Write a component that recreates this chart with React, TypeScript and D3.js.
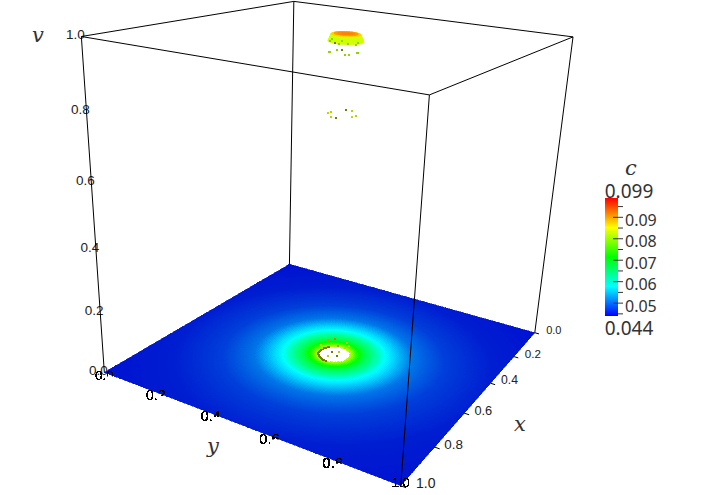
import { useMemo } from 'react';
import * as d3 from 'd3';

// Screen positions of the eight box corners: the projection is fitted to them.
const cornerCube = [[0, 0, 0], [1, 0, 0], [1, 1, 0], [0, 1, 0], [0, 0, 1], [1, 0, 1], [1, 1, 1], [0, 1, 1]];
const cornerScreen = [[290, 267], [104, 370], [400, 488], [535, 330], [293, 0], [82, 37], [430, 95], [573, 38]];

const axisTicks = [0, 0.2, 0.4, 0.6, 0.8, 1];

// c against distance from the disc centre on the floor
const profileR = [0.052, 0.06, 0.07, 0.095, 0.13, 0.165, 0.25, 0.35, 0.5, 0.75];
const profileC = [0.081, 0.078, 0.074, 0.068, 0.063, 0.0575, 0.051, 0.048, 0.046, 0.045];
const discX = 0.515;
const discY = 0.512;
const discR = 0.05;

// dome on top, c and v against radius
const domeR = [0, 0.012, 0.024, 0.034, 0.042, 0.05];
const domeV = [1.012, 1.012, 1.012, 1.012, 1.01, 0.99];
const domeC = [0.092, 0.092, 0.091, 0.09, 0.085, 0.08];

// loose points
const floorX = [0.537, 0.524, 0.514, 0.494, 0.491, 0.509, 0.497, 0.528, 0.535];
const floorY = [0.476, 0.498, 0.514, 0.547, 0.553, 0.523, 0.542, 0.49, 0.479];
const floorV = [0.033, 0.051, 0.054, 0.041, 0.031, 0.031, 0.024, 0.027, 0.023];
const floorC = [0.086, 0.089, 0.091, 0.087, 0.085, 0.09, 0.084, 0.085, 0.084];

const midX = [0.517, 0.501, 0.552, 0.552, 0.458, 0.461, 0.512, 0.495];
const midY = [0.463, 0.463, 0.494, 0.512, 0.489, 0.509, 0.54, 0.542];
const midV = [0.78, 0.78, 0.78, 0.78, 0.78, 0.78, 0.78, 0.78];
const midC = [0.084, 0.083, 0.083, 0.082, 0.084, 0.083, 0.084, 0.083];
const midDark = [3, 4];

const topX = [0.522, 0.52, 0.51, 0.504, 0.499, 0.493, 0.482, 0.481, 0.52, 0.517, 0.514, 0.508, 0.503, 0.496, 0.485, 0.482];
const topY = [0.461, 0.464, 0.482, 0.493, 0.502, 0.512, 0.531, 0.534, 0.464, 0.469, 0.476, 0.485, 0.494, 0.507, 0.527, 0.532];
const topV = [0.956, 0.954, 0.963, 0.963, 0.949, 0.949, 0.957, 0.955, 0.985, 0.991, 0.982, 0.979, 0.987, 0.979, 0.979, 0.983];
const topC = [0.081, 0.081, 0.08, 0.08, 0.08, 0.081, 0.081, 0.08, 0.08, 0.08, 0.08, 0.08, 0.081, 0.08, 0.081, 0.08];
const topDark = [3, 10];

// dark olive rim of the hole
const rimAngles = [-132, -125, -118, -111, -104, -97, -90, -83, -76, -69, -62, -55, -48, -41, -34, -27, -20, -13, -6, 1];
const innerX = [0.522, 0.535, 0.495, 0.505];
const innerY = [0.526, 0.503, 0.519, 0.498];
const innerDark = [true, false, false, true];

const colorDomain = [0.044, 0.0578, 0.0715, 0.085, 0.099];
const colorRange = ['#0000ff', '#00ffff', '#00ff00', '#ffff00', '#ff0000'];
const barMajor = [0.05, 0.06, 0.07, 0.08, 0.09];
const barMinor = [0.045, 0.055, 0.065, 0.075, 0.085, 0.095];
const OLIVE = '#767c00';

const color = d3.scaleLinear<string>().domain(colorDomain).range(colorRange).clamp(true);
const profile = d3.scaleLinear().domain(profileR).range(profileC).clamp(true);
const barY = d3.scaleLinear().domain([0.044, 0.099]).range([316, 198]);
// the lit floor comes out darker than the bar at its low end
const floorLight = d3.scaleLinear().domain([0.046, 0.056]).range([0.82, 1]).clamp(true);

function floorColor(c: number) {
  const rgb = d3.rgb(color(c));
  const k = floorLight(c);
  return d3.rgb(rgb.r * k, rgb.g * k, rgb.b * k).formatHex();
}
const pointColor = (c: number) => d3.rgb(color(c)).darker(0.5).formatHex();

// least squares fit of a 3x4 camera matrix (last entry fixed at 1)
function fitCamera() {
  const n = 11;
  const ata = d3.range(n).map(() => new Array(n + 1).fill(0));
  const addRow = (row: number[], rhs: number) => {
    for (let i = 0; i < n; i++) {
      for (let j = 0; j < n; j++) ata[i][j] += row[i] * row[j];
      ata[i][n] += row[i] * rhs;
    }
  };
  cornerCube.forEach(([x, y, z], k) => {
    const [u, v] = cornerScreen[k];
    addRow([x, y, z, 1, 0, 0, 0, 0, -u * x, -u * y, -u * z], u);
    addRow([0, 0, 0, 0, x, y, z, 1, -v * x, -v * y, -v * z], v);
  });
  for (let i = 0; i < n; i++) {
    let best = i;
    for (let r = i + 1; r < n; r++) if (Math.abs(ata[r][i]) > Math.abs(ata[best][i])) best = r;
    [ata[i], ata[best]] = [ata[best], ata[i]];
    for (let r = 0; r < n; r++) {
      if (r === i) continue;
      const f = ata[r][i] / ata[i][i];
      for (let c = i; c <= n; c++) ata[r][c] -= f * ata[i][c];
    }
  }
  return ata.map((row, i) => row[n] / row[i]);
}

const m = fitCamera();
function project(x: number, y: number, v: number): [number, number] {
  const w = m[8] * x + m[9] * y + m[10] * v + 1;
  return [(m[0] * x + m[1] * y + m[2] * v + m[3]) / w, (m[4] * x + m[5] * y + m[6] * v + m[7]) / w];
}

const polyPath = d3.line();
const TICK_FONT = '"Liberation Sans", Arial, sans-serif';
const MATH_FONT = '"DejaVu Serif", serif';
const BAR_FONT = '"Noto Sans", sans-serif';

function Points({ xs, ys, vs, fill }: { xs: number[]; ys: number[]; vs: number[]; fill: (i: number) => string }) {
  return (
    <g shapeRendering="crispEdges">
      {xs.map((x, i) => {
        const [px, py] = project(x, ys[i], vs[i]);
        return <rect key={i} x={Math.round(px) - 1} y={Math.round(py) - 1} width={2} height={2} fill={fill(i)} />;
      })}
    </g>
  );
}

export default function App() {
  const cells = useMemo(() => {
    const steps = 150;
    const size = 1 / steps;
    const out: { d: string; fill: string }[] = [];
    for (const i of d3.range(steps)) {
      for (const j of d3.range(steps)) {
        const x = i * size;
        const y = j * size;
        const r = Math.hypot(x + size / 2 - discX, y + size / 2 - discY);
        if (r < discR) continue;
        const d = polyPath([project(x, y, 0), project(x + size, y, 0), project(x + size, y + size, 0), project(x, y + size, 0)]) + 'Z';
        out.push({ d, fill: floorColor(profile(r)) });
      }
    }
    return out;
  }, []);

  const dome = useMemo(() => {
    const out: { d: string; fill: string }[] = [];
    const angles = d3.range(0, 360, 15).map((a) => (a * Math.PI) / 180);
    for (let k = domeR.length - 2; k >= 0; k--) {
      const ring = (idx: number) =>
        angles.map((a) => project(discX + domeR[idx] * Math.cos(a), discY + domeR[idx] * Math.sin(a), domeV[idx]));
      const outer = ring(k + 1);
      const inner = ring(k);
      angles.forEach((_, a) => {
        const b = (a + 1) % angles.length;
        out.push({ d: polyPath([outer[a], outer[b], inner[b], inner[a]]) + 'Z', fill: color((domeC[k] + domeC[k + 1]) / 2) });
      });
    }
    return out;
  }, []);

  const edges: [number, number][] = [[4, 5], [5, 6], [6, 7], [7, 4], [0, 4], [1, 5], [3, 7], [2, 6]];
  const rimX = rimAngles.map((a) => discX + discR * Math.cos((a * Math.PI) / 180));
  const rimY = rimAngles.map((a) => discY + discR * Math.sin((a * Math.PI) / 180));
  const zeros = (a: number[]) => a.map(() => 0);

  return (
    <svg width={718} height={495} style={{ position: 'absolute', left: 0, top: 0, background: '#fff' }}>
      <defs>
        <linearGradient id="bar" x1="0" y1="1" x2="0" y2="0">
          {colorDomain.map((c, i) => (
            <stop key={c} offset={i / (colorDomain.length - 1)} stopColor={colorRange[i]} />
          ))}
        </linearGradient>
        {/* hard edged glyphs for the y labels */}
        <filter id="aliased" x="-10%" y="-10%" width="120%" height="120%">
          <feComponentTransfer>
            <feFuncA type="discrete" tableValues="0 1 1 1" />
          </feComponentTransfer>
        </filter>
        {/* the last digit of each y label only shows above the floor edge */}
        {axisTicks.map((t) => {
          const [px, py] = project(1, t, 0);
          const size = 13.5 + t * 2;
          const cut = px + 0.14 * size;
          return (
            <clipPath key={t} id={`ylab-${t * 10}`}>
              <rect x={px - 20} y={py - 15} width={cut - px + 20} height={40} />
              <rect x={cut} y={py - 15} width={20} height={19} />
            </clipPath>
          );
        })}
      </defs>

      {/* v tick labels */}
      {axisTicks.map((t) => {
        const [px, py] = project(1, 0, t);
        return (
          <text key={t} x={px - 6} y={py - 2} textAnchor="middle" dominantBaseline="central" fontFamily={TICK_FONT} fontSize={13.5} fill="#222">
            {t.toFixed(1)}
          </text>
        );
      })}

      {cells.map((c, i) => (
        <path key={i} d={c.d} fill={c.fill} stroke={c.fill} strokeWidth={0.6} shapeRendering="crispEdges" />
      ))}

      {/* y tick labels */}
      {axisTicks.map((t) => {
        const [px, py] = project(1, t, 0);
        const last = t === 1;
        return (
          <g key={t} clipPath={last ? undefined : `url(#ylab-${t * 10})`}>
            <text x={px} y={py + (last ? -3 : 3)} textAnchor="middle" dominantBaseline="central" fontFamily={TICK_FONT} fontSize={last ? 13 : 13.5 + t * 2} fill="#000" filter="url(#aliased)">
              {t.toFixed(1)}
            </text>
          </g>
        );
      })}

      {/* x ticks and labels */}
      {axisTicks.map((t) => {
        const [px, py] = project(t, 1, 0);
        const [qx, qy] = project(t, 1.015, 0);
        return (
          <g key={t}>
            <line x1={px} y1={py} x2={qx} y2={qy} stroke="#000" />
            <text x={px + (t === 1 ? 25 : 19)} y={py - 3} textAnchor="middle" dominantBaseline="central" fontFamily={TICK_FONT} fontSize={11 + t * 3} fill="#222">
              {t.toFixed(1)}
            </text>
          </g>
        );
      })}

      {/* scattered points and hole rim */}
      <Points xs={rimX} ys={rimY} vs={zeros(rimX)} fill={() => OLIVE} />
      <Points xs={innerX} ys={innerY} vs={zeros(innerX)} fill={(i) => (innerDark[i] ? OLIVE : '#b8d400')} />
      <Points xs={floorX} ys={floorY} vs={floorV} fill={(i) => pointColor(floorC[i])} />
      <Points xs={midX} ys={midY} vs={midV} fill={(i) => (midDark.includes(i) ? OLIVE : pointColor(midC[i]))} />

      {dome.map((c, i) => (
        <path key={i} d={c.d} fill={c.fill} stroke={c.fill} strokeWidth={0.5} />
      ))}
      <Points xs={topX} ys={topY} vs={topV} fill={(i) => (topDark.includes(i) ? OLIVE : pointColor(topC[i]))} />

      {/* box */}
      {edges.map(([a, b]) => {
        const p = project(cornerCube[a][0], cornerCube[a][1], cornerCube[a][2]);
        const q = project(cornerCube[b][0], cornerCube[b][1], cornerCube[b][2]);
        return <line key={`${a}-${b}`} x1={p[0]} y1={p[1]} x2={q[0]} y2={q[1]} stroke="#000" strokeWidth={1} />;
      })}

      {/* axis titles */}
      <g fontFamily={MATH_FONT} fontStyle="italic" fontSize={21} fill="#333" textAnchor="middle">
        <text x={38} y={42}>v</text>
        <text x={213} y={453}>y</text>
        <text x={520} y={431}>x</text>
        <text x={631} y={175}>c</text>
      </g>

      {/* colour bar */}
      <rect x={605} y={barY(0.099)} width={13} height={barY(0.044) - barY(0.099)} fill="url(#bar)" />
      {barMajor.map((t) => (
        <g key={t}>
          <line x1={613} x2={623} y1={barY(t)} y2={barY(t)} stroke="#333" />
          <text x={625} y={barY(t) + 2.5} dominantBaseline="central" fontFamily={BAR_FONT} fontSize={16} fill="#333">{t.toFixed(2)}</text>
        </g>
      ))}
      {barMinor.map((t) => (
        <line key={t} x1={618} x2={623} y1={barY(t)} y2={barY(t)} stroke="#333" />
      ))}
      <text x={629} y={198} textAnchor="middle" fontFamily={BAR_FONT} fontSize={19} fill="#333">0.099</text>
      <text x={629} y={335} textAnchor="middle" fontFamily={BAR_FONT} fontSize={19} fill="#333">0.044</text>
    </svg>
  );
}
